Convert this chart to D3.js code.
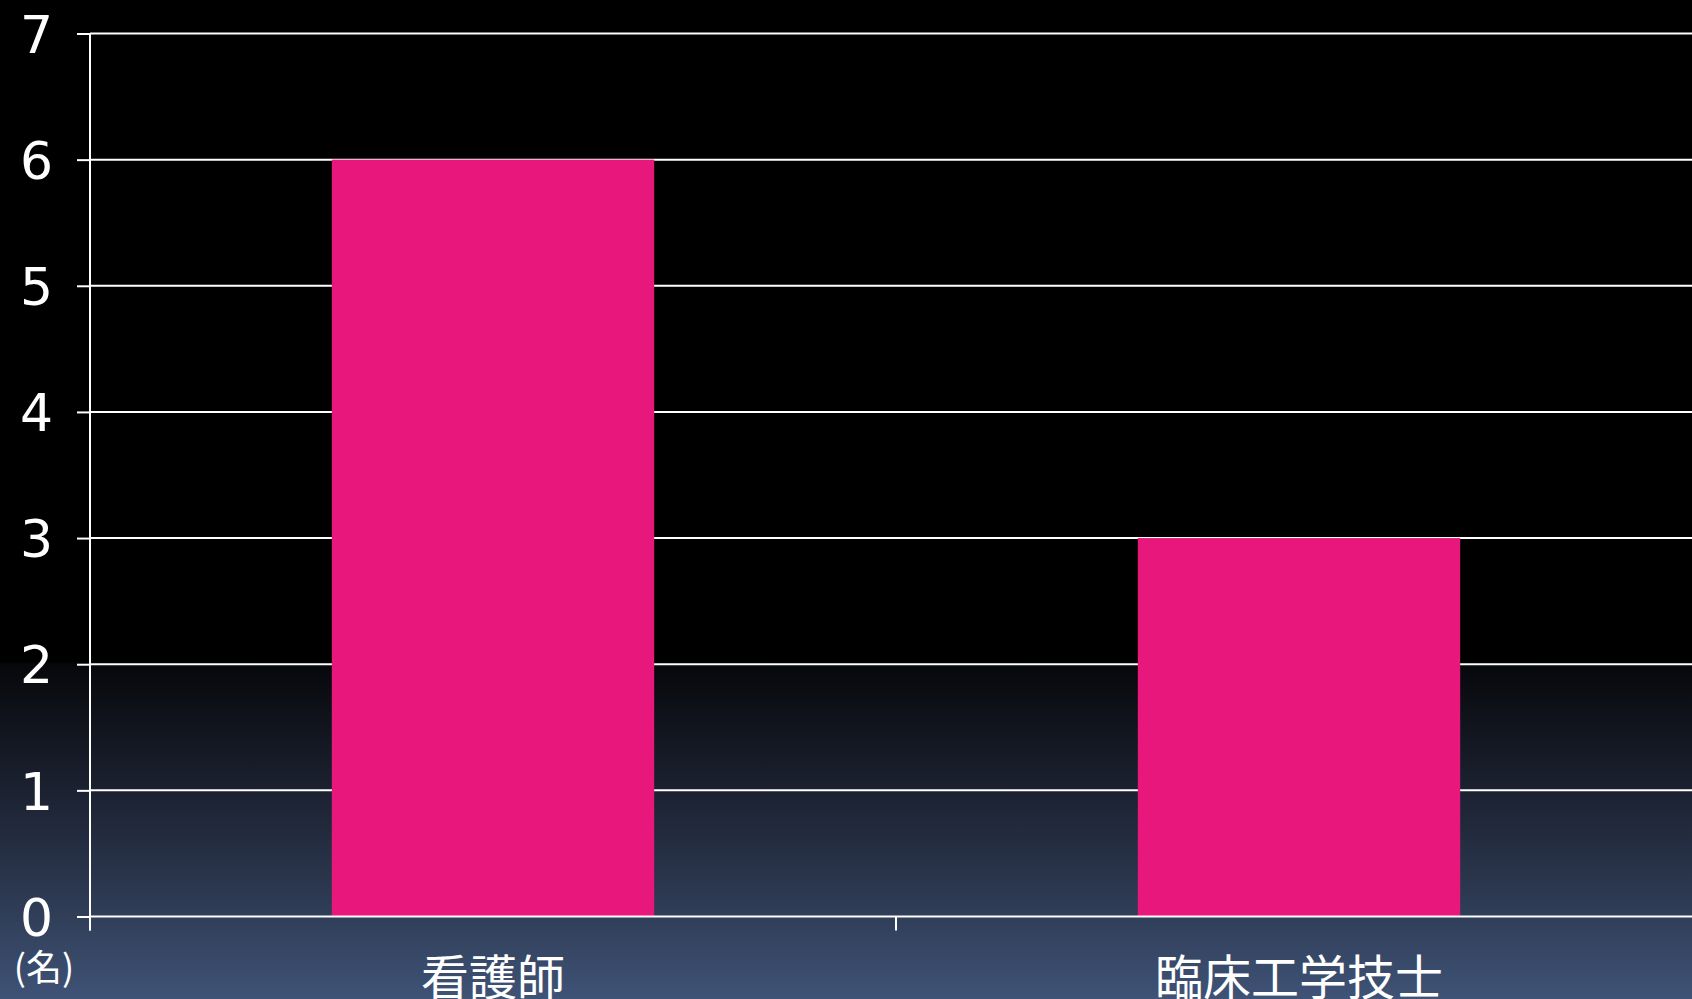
<!DOCTYPE html>
<html><head><meta charset="utf-8">
<script src="https://cdn.jsdelivr.net/npm/d3@7"></script>
<style>html,body{margin:0;padding:0;background:#000;overflow:hidden}</style>
</head><body>
<script>
const categories = ["看護師", "臨床工学技士"];
const values = [6, 3];
const yTicks = [0, 1, 2, 3, 4, 5, 6, 7];
const unitLabel = "(名)";

const W = 1692, H = 999;
const svg = d3.select("body").append("svg").attr("width", W).attr("height", H);
const defs = svg.append("defs");
const grad = defs.append("linearGradient").attr("id", "bg").attr("x1", 0).attr("y1", 0).attr("x2", 0).attr("y2", 1);
grad.append("stop").attr("offset", "0").attr("stop-color", "#000000");
grad.append("stop").attr("offset", "0.662").attr("stop-color", "#000000");
grad.append("stop").attr("offset", "0.665").attr("stop-color", "#07080b");
grad.append("stop").attr("offset", "0.79").attr("stop-color", "#1b2130");
grad.append("stop").attr("offset", "0.917").attr("stop-color", "#303e58");
grad.append("stop").attr("offset", "1").attr("stop-color", "#3f5377");
svg.append("rect").attr("width", W).attr("height", H).attr("fill", "url(#bg)");

const x0 = 90, x1 = 1702, yTop = 33.5, yBot = 916.5;
const x = d3.scaleBand().domain(categories).range([x0, x1]).paddingInner(0.6).paddingOuter(0.3);
const y = d3.scaleLinear().domain([0, 7]).range([yBot, yTop]);

// gridlines
svg.append("g").selectAll("line").data(yTicks.filter(d => d > 0)).join("line")
  .attr("x1", x0).attr("x2", W).attr("y1", d => y(d)).attr("y2", d => y(d))
  .attr("stroke", "#fff").attr("stroke-width", 2);

// bars
svg.append("g").selectAll("rect").data(values).join("rect")
  .attr("x", (d, i) => x(categories[i])).attr("width", x.bandwidth())
  .attr("y", d => y(d)).attr("height", d => y(0) - y(d))
  .attr("fill", "#E8177B");

// y axis
const yAxis = d3.axisLeft(y).tickValues(yTicks).tickSize(13).tickPadding(24).tickFormat(d3.format("d"));
const gy = svg.append("g").attr("transform", `translate(${x0},0)`).call(yAxis);
gy.select(".domain").attr("stroke", "#fff").attr("stroke-width", 2).attr("d", `M0,${yTop}V${yBot + 14}`);
gy.selectAll(".tick line").attr("stroke", "#fff").attr("stroke-width", 2);
gy.selectAll(".tick text").attr("fill", "#fff").attr("font-size", 52)
  .attr("font-family", "'DejaVu Sans', sans-serif").attr("dy", "0.36em");

// x axis line and ticks
svg.append("line").attr("x1", x0).attr("x2", W).attr("y1", yBot).attr("y2", yBot)
  .attr("stroke", "#fff").attr("stroke-width", 2);
const bounds = [x0, x0 + x.step()];
svg.append("g").selectAll("line").data(bounds).join("line")
  .attr("x1", d => d).attr("x2", d => d).attr("y1", yBot).attr("y2", yBot + 14)
  .attr("stroke", "#fff").attr("stroke-width", 2);

// category labels
svg.append("g").selectAll("text").data(categories).join("text")
  .attr("x", d => x(d) + x.bandwidth() / 2).attr("y", 995)
  .attr("text-anchor", "middle").attr("fill", "#fff").attr("font-size", 48)
  .attr("font-family", "'Noto Sans CJK JP', sans-serif").text(d => d);

// unit label
svg.append("text").attr("x", 44).attr("y", 981).attr("text-anchor", "middle")
  .attr("fill", "#fff").attr("font-size", 36)
  .attr("font-family", "'Noto Sans CJK JP', sans-serif").text(unitLabel);
</script>
</body></html>
